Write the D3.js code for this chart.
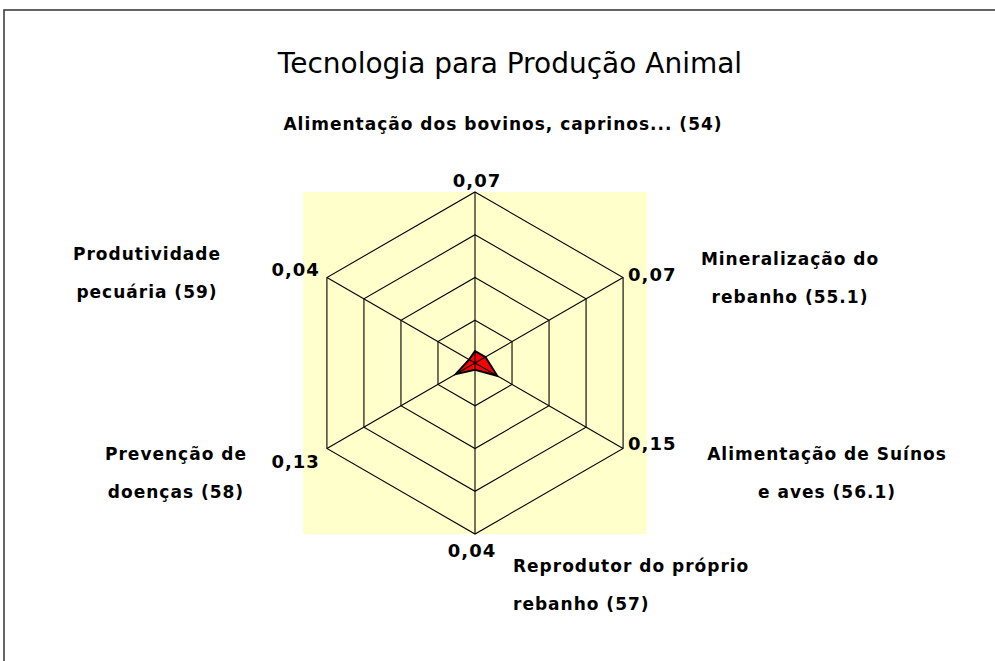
<!DOCTYPE html>
<html>
<head>
<meta charset="utf-8">
<script src="https://cdn.jsdelivr.net/npm/d3@7"></script>
<style>
  body { margin: 0; background: #fff; }
  svg { display: block; }
  text { font-family: "Comic Sans MS", "DejaVu Sans", sans-serif; fill: #000; }
</style>
</head>
<body>
<svg id="chart"></svg>
<script>
let title = "Tecnologia para Produção Animal";

// one entry per spoke, clockwise from the top
let categories = [
  ["Alimentação dos bovinos, caprinos... (54)"],
  ["Mineralização do", "rebanho (55.1)"],
  ["Alimentação de Suínos", "e aves (56.1)"],
  ["Reprodutor do próprio", "rebanho (57)"],
  ["Prevenção de", "doenças (58)"],
  ["Produtividade", "pecuária (59)"]
];
let values = [0.07, 0.07, 0.15, 0.04, 0.13, 0.04];
let ringTicks = [0.25, 0.5, 0.75, 1];

let width = 995;
let height = 661;
let cx = 475;
let cy = 363;
let radius = 171;
let lineGap = 38;

// where each category label sits, relative to the chart centre
let catLayout = [
  { dx: 28, dy: -233, anchor: "middle" },
  { dx: 315, dy: -98, anchor: "middle" },
  { dx: 352, dy: 97, anchor: "middle" },
  { dx: 38, dy: 209, anchor: "start" },
  { dx: -299, dy: 97, anchor: "middle" },
  { dx: -328, dy: -103, anchor: "middle" }
];
// value labels, relative to the spoke tip
let valLayout = [
  { dx: 2, dy: -5, anchor: "middle" },
  { dx: 5, dy: 3, anchor: "start" },
  { dx: 5, dy: 1, anchor: "start" },
  { dx: -3, dy: 23, anchor: "middle" },
  { dx: -7, dy: 19, anchor: "end" },
  { dx: -7, dy: -2, anchor: "end" }
];

let locale = d3.formatLocale({ decimal: ",", thousands: ".", grouping: [3], currency: ["", ""] });
let fmt = locale.format(".2f");

let svg = d3.select("#chart").attr("width", width).attr("height", height);

let rScale = d3.scaleLinear().domain([0, 1]).range([0, radius]);
let angle = (i) => (-90 + i * 360 / categories.length) * Math.PI / 180;
let pt = (i, v) => [cx + rScale(v) * Math.cos(angle(i)), cy + rScale(v) * Math.sin(angle(i))];

// outer frame (only top and left edges are visible)
svg.append("path")
  .attr("d", `M4,${height} L4,10 L${width},10`)
  .attr("fill", "none")
  .attr("stroke", "#333")
  .attr("stroke-width", 1.5);

svg.append("text")
  .attr("x", 510)
  .attr("y", 73)
  .attr("text-anchor", "middle")
  .style("font-size", "28px")
  .text(title);

// plot area
let outerTop = pt(0, 1);
let outerBottom = pt(3, 1);
svg.append("rect")
  .attr("x", cx - 172)
  .attr("y", outerTop[1])
  .attr("width", 344)
  .attr("height", outerBottom[1] - outerTop[1])
  .attr("fill", "#FFFFCC");

let line = d3.line();

svg.selectAll(".ring")
  .data(ringTicks)
  .enter()
  .append("path")
  .attr("class", "ring")
  .attr("d", (t) => line(categories.map((c, i) => pt(i, t))) + "Z")
  .attr("fill", "none")
  .attr("stroke", "#000")
  .attr("stroke-width", 1.1);

svg.append("path")
  .attr("d", line(values.map((v, i) => pt(i, v))) + "Z")
  .attr("fill", "#FF0000")
  .attr("stroke", "#000")
  .attr("stroke-width", 2)
  .attr("stroke-linejoin", "miter");

svg.selectAll(".spoke")
  .data(categories)
  .enter()
  .append("line")
  .attr("class", "spoke")
  .attr("x1", cx)
  .attr("y1", cy)
  .attr("x2", (d, i) => pt(i, 1)[0])
  .attr("y2", (d, i) => pt(i, 1)[1])
  .attr("stroke", "#000")
  .attr("stroke-width", 1.1);

svg.selectAll(".val")
  .data(values)
  .enter()
  .append("text")
  .attr("class", "val")
  .attr("x", (v, i) => pt(i, 1)[0] + valLayout[i].dx)
  .attr("y", (v, i) => pt(i, 1)[1] + valLayout[i].dy)
  .attr("text-anchor", (v, i) => valLayout[i].anchor)
  .style("font-size", "18px")
  .style("font-weight", "bold")
  .style("letter-spacing", "1px")
  .text((v) => fmt(v));

let cats = svg.selectAll(".cat")
  .data(categories)
  .enter()
  .append("text")
  .attr("class", "cat")
  .attr("text-anchor", (d, i) => catLayout[i].anchor)
  .style("font-size", "17px")
  .style("font-weight", "bold")
  .style("letter-spacing", "1px");

cats.each(function (lines, i) {
  let x = cx + catLayout[i].dx;
  let y = cy + catLayout[i].dy;
  d3.select(this)
    .selectAll("tspan")
    .data(lines)
    .enter()
    .append("tspan")
    .attr("x", x)
    .attr("y", (l, j) => y + j * lineGap)
    .text((l) => l);
});
</script>
</body>
</html>
